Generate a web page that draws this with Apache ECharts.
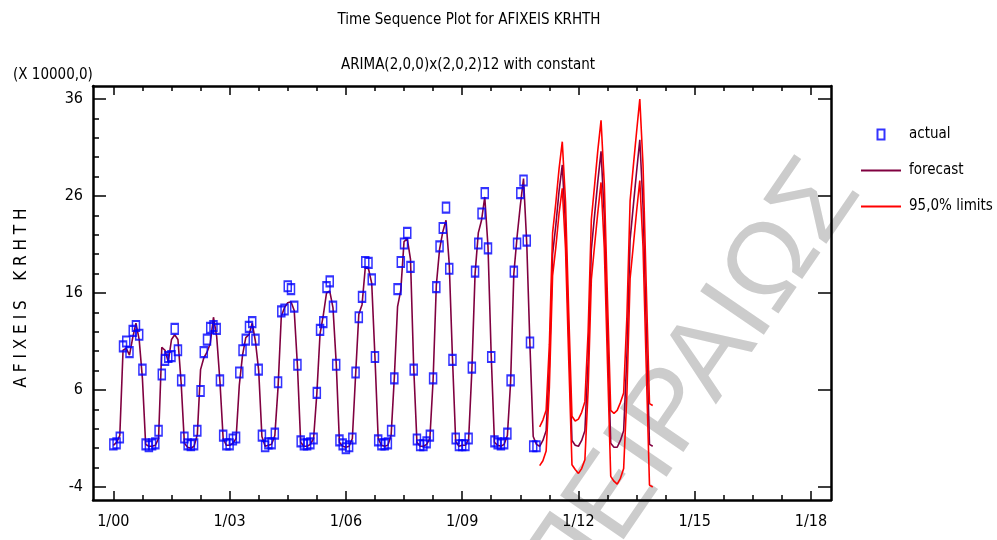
<!DOCTYPE html>
<html><head><meta charset="utf-8">
<script src="https://cdn.jsdelivr.net/npm/echarts@6/dist/echarts.min.js"></script>
<style>html,body{margin:0;padding:0;background:#fff}#c{width:997px;height:540px}</style>
</head><body><div id="c"></div>
<script>
const FONT = "'Liberation Sans Narrow','Arial Narrow','DejaVu Sans Condensed',sans-serif";

// monthly series, first value = 1/2000
const actualValues = [
  0.4, 0.5, 1.1, 10.5, 11.0, 9.9, 12.1, 12.6, 11.7, 8.1, 0.4, 0.2,
  0.4, 0.5, 1.8, 7.6, 9.1, 9.4, 9.5, 12.3, 10.1, 7.0, 1.1, 0.4,
  0.3, 0.4, 1.8, 5.9, 9.9, 11.2, 12.4, 12.6, 12.3, 7.0, 1.3, 0.4,
  0.4, 0.9, 1.1, 7.8, 10.1, 11.2, 12.5, 13.0, 11.2, 8.1, 1.3, 0.2,
  0.5, 0.5, 1.5, 6.8, 14.1, 14.3, 16.7, 16.4, 14.6, 8.6, 0.7, 0.4,
  0.4, 0.5, 1.0, 5.7, 12.2, 13.0, 16.6, 17.2, 14.6, 8.6, 0.8, 0.4,
  0.0, 0.2, 1.0, 7.8, 13.5, 15.6, 19.2, 19.1, 17.4, 9.4, 0.8, 0.4,
  0.4, 0.5, 1.8, 7.2, 16.4, 19.2, 21.1, 22.2, 18.7, 8.1, 0.9, 0.3,
  0.3, 0.6, 1.3, 7.2, 16.6, 20.8, 22.7, 24.8, 18.5, 9.1, 1.0, 0.3,
  0.3, 0.3, 1.0, 8.3, 18.2, 21.1, 24.2, 26.3, 20.6, 9.4, 0.7, 0.5,
  0.4, 0.5, 1.5, 7.0, 18.2, 21.1, 26.3, 27.6, 21.4, 10.9, 0.2, 0.2
];
const fittedValues = [
  0.3, 0.6, 1.3, 10.1, 10.3, 9.6, 11.4, 12.9, 11.2, 7.2, 0.4, 0.2,
  0.2, 0.3, 1.0, 10.4, 10.1, 8.9, 11.2, 11.7, 11.2, 6.7, 0.5, 0.1,
  0.0, 0.2, 1.4, 8.1, 9.3, 9.9, 10.8, 13.5, 11.5, 6.9, 1.0, 0.3,
  0.3, 0.5, 1.0, 6.5, 9.6, 11.4, 11.7, 12.9, 11.0, 8.0, 1.2, 0.2,
  0.3, 0.4, 1.3, 6.3, 13.6, 14.5, 15.0, 15.1, 14.2, 8.5, 0.6, 0.2,
  0.2, 0.4, 1.0, 5.6, 11.8, 13.7, 16.0, 16.2, 14.5, 8.8, 0.6, 0.2,
  0.1, 0.2, 1.0, 7.5, 13.8, 14.8, 18.6, 18.5, 17.0, 9.4, 1.0, 0.3,
  0.2, 0.3, 1.3, 7.3, 14.6, 16.3, 21.3, 21.6, 19.5, 8.3, 0.6, 0.2,
  0.2, 0.4, 1.0, 7.0, 16.8, 20.5, 22.3, 23.5, 19.0, 9.3, 0.7, 0.2,
  0.3, 0.3, 0.9, 8.0, 18.0, 22.2, 23.5, 25.9, 20.8, 9.5, 0.6, 0.3,
  0.2, 0.4, 1.3, 6.8, 18.0, 21.8, 25.0, 27.8, 21.1, 10.5, 1.2, 0.4
];
// forecasts 1/2011 .. 12/2013
const forecastValues = [
  0.2, 0.8, 1.8, 8.5, 20.0, 23.0, 26.5, 29.2, 23.0, 11.5, 0.8, 0.3,
  0.2, 0.8, 1.8, 9.0, 20.5, 24.0, 27.5, 30.6, 24.0, 12.0, 0.5, 0.1,
  0.1, 0.8, 1.8, 9.5, 21.5, 25.0, 28.5, 31.8, 25.0, 12.5, 0.4, 0.2
];
const upperLimits = [
  2.2, 2.9, 3.9, 10.7, 22.2, 25.3, 28.8, 31.6, 25.4, 13.9, 3.3, 2.8,
  3.0, 3.7, 4.8, 12.0, 23.6, 27.1, 30.7, 33.8, 27.3, 15.3, 3.9, 3.6,
  3.9, 4.7, 5.7, 13.5, 25.5, 29.1, 32.6, 36.0, 29.2, 16.7, 4.6, 4.4
];
const lowerLimits = [
  -1.8, -1.3, -0.3, 6.3, 17.8, 20.7, 24.2, 26.8, 20.6, 9.1, -1.7, -2.2,
  -2.6, -2.1, -1.2, 6.0, 17.4, 20.9, 24.3, 27.4, 20.7, 8.7, -2.9, -3.4,
  -3.7, -3.1, -2.1, 5.5, 17.5, 20.9, 24.4, 27.6, 20.8, 8.3, -3.8, -4.0
];
const xTickMonths = [0, 36, 72, 108, 144, 180, 216];
const xTickLabels = ['1/00', '1/03', '1/06', '1/09', '1/12', '1/15', '1/18'];
const xMinorMonths = [9, 18, 27, 45, 54, 63, 81, 90, 99, 117, 126, 135, 153, 162, 171, 189, 198, 207];
const yTickValues = [-4, 6, 16, 26, 36];
const yMinorValues = [-2, 0, 2, 4, 8, 10, 12, 14, 18, 20, 22, 24, 28, 30, 32, 34];
const seriesNames = ['actual', 'forecast', '95,0% limits'];

const X_MIN = -6.3, X_MAX = 222.2, Y_MIN = -5.34, Y_MAX = 37.34;

const actualData = actualValues.map((v, i) => [i, v]);
const forecastData = fittedValues.concat(forecastValues).map((v, i) => [i, v]);
const n0 = actualValues.length;
const upperData = upperLimits.map((v, i) => [n0 + i, v]);
const lowerData = lowerLimits.map((v, i) => [n0 + i, v]);

function xAx(pos, ticks, len, line, labels) {
  return {
    type: 'value', min: X_MIN, max: X_MAX, position: pos,
    axisLine: { show: line, onZero: false, lineStyle: { color: '#000', width: 2.5 } },
    axisTick: { show: true, inside: true, length: len, customValues: ticks, lineStyle: { color: '#000', width: 1.5 } },
    axisLabel: labels ? {
      show: true, customValues: xTickMonths, margin: 14, color: '#000', fontSize: 16, fontFamily: FONT,
      formatter: v => xTickLabels[xTickMonths.indexOf(Math.round(v))]
    } : { show: false },
    splitLine: { show: false }
  };
}
function yAx(pos, ticks, len, line, labels) {
  return {
    type: 'value', min: Y_MIN, max: Y_MAX, position: pos,
    axisLine: { show: line, onZero: false, lineStyle: { color: '#000', width: 2.5 } },
    axisTick: { show: true, inside: true, length: len, customValues: ticks, lineStyle: { color: '#000', width: 1.5 } },
    axisLabel: labels ? {
      show: true, customValues: yTickValues, margin: 10, color: '#000', fontSize: 16, fontFamily: FONT
    } : { show: false },
    splitLine: { show: false }
  };
}

const chart = echarts.init(document.getElementById('c'), null, { renderer: 'canvas' });
chart.setOption({
  animation: false,
  backgroundColor: '#fff',
  title: [
    { text: 'Time Sequence Plot for AFIXEIS KRHTH', left: 464, top: 8, textAlign: 'center',
      textStyle: { fontSize: 15, fontWeight: 'normal', color: '#000', fontFamily: FONT } },
    { text: 'ARIMA(2,0,0)x(2,0,2)12 with constant', left: 463, top: 53, textAlign: 'center',
      textStyle: { fontSize: 15, fontWeight: 'normal', color: '#000', fontFamily: FONT } },
    { text: '(X 10000,0)', left: 8, top: 63,
      textStyle: { fontSize: 15, fontWeight: 'normal', color: '#000', fontFamily: FONT } }
  ],
  legend: {
    orient: 'vertical', left: 856, top: 122, itemWidth: 40, itemHeight: 10, itemGap: 21,
    textStyle: { fontSize: 15, color: '#000', fontFamily: FONT, padding: [0, 0, 0, 3] },
    data: [
      { name: seriesNames[0], icon: 'path://M0,0H7V10H0Z' },
      { name: seriesNames[1], icon: 'path://M0,0H40V2H0Z' },
      { name: seriesNames[2], icon: 'path://M0,0H40V2H0Z' }
    ]
  },
  grid: { left: 93, right: 166, top: 86, bottom: 40, containLabel: false },
  xAxis: [
    xAx('bottom', xTickMonths, 9, true, true),
    xAx('bottom', xMinorMonths, 5, false, false),
    xAx('top', xTickMonths, 9, true, false),
    xAx('top', xMinorMonths, 5, false, false)
  ],
  yAxis: [
    yAx('left', yTickValues, 13, true, true),
    yAx('left', yMinorValues, 6, false, false),
    yAx('right', yTickValues, 13, true, false)
  ],
  graphic: [
    { type: 'text', x: 22, y: 298, rotation: Math.PI / 2, silent: true,
      style: { text: 'A F I X E I S    K R H T H', fill: '#000', fontSize: 17, fontFamily: FONT,
               textAlign: 'center', textVerticalAlign: 'middle' } },
    { type: 'text', x: 692, y: 385, rotation: 0.97, z: -10, silent: true,
      style: { text: 'ΠΕΙΡΑΙΩΣ', fill: '#cccccc', fontSize: 112, fontFamily: "'Liberation Sans',Arial,sans-serif",
               textAlign: 'center', textVerticalAlign: 'middle' } }
  ],
  series: [
    { name: seriesNames[1], type: 'line', data: forecastData, xAxisIndex: 0, yAxisIndex: 0,
      symbol: 'none', showSymbol: false, color: '#800040', lineStyle: { color: '#800040', width: 1.6 }, z: 2 },
    { name: seriesNames[2], type: 'line', data: upperData, xAxisIndex: 0, yAxisIndex: 0,
      symbol: 'none', showSymbol: false, color: '#ff0000', lineStyle: { color: '#ff0000', width: 1.6 }, z: 2 },
    { name: seriesNames[2], type: 'line', data: lowerData, xAxisIndex: 0, yAxisIndex: 0,
      symbol: 'none', showSymbol: false, color: '#ff0000', lineStyle: { color: '#ff0000', width: 1.6 }, z: 2 },
    { name: seriesNames[0], type: 'scatter', data: actualData, xAxisIndex: 0, yAxisIndex: 0,
      symbol: 'rect', symbolSize: [7, 10],
      itemStyle: { color: 'rgba(255,255,255,0)', borderColor: '#0000ff', borderWidth: 1.8 }, z: 3 }
  ]
});
</script></body></html>
